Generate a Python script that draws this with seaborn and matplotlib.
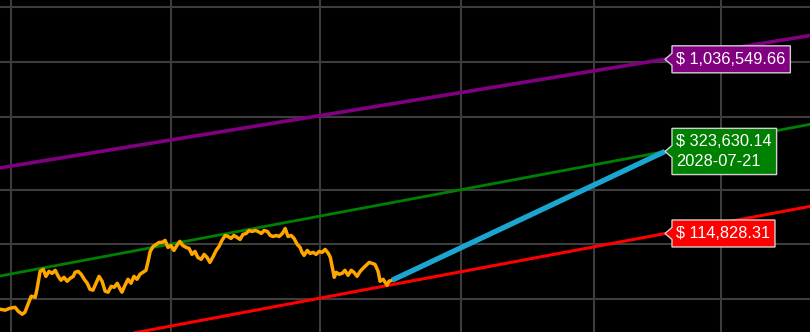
import matplotlib
matplotlib.use("Agg")
import matplotlib.pyplot as plt
from matplotlib.path import Path
import seaborn as sns
import pandas as pd

# ---------------- data ----------------
genesis = pd.Timestamp("2009-01-03")

# price history: days since genesis, price in USD
price_days = [5452, 5463, 5474, 5485, 5492, 5501, 5507, 5514, 5521, 5530, 5534, 5541,
              5548, 5554, 5561, 5568, 5575, 5582, 5588, 5595, 5602, 5609, 5616, 5620,
              5627, 5634, 5641, 5648, 5654, 5661, 5668, 5675, 5682, 5689, 5696, 5703,
              5710, 5717, 5724, 5728, 5735, 5742, 5749, 5756, 5763, 5770, 5777, 5784,
              5789, 5794, 5801, 5808, 5815, 5822, 5829, 5836, 5843, 5850, 5857, 5864,
              5871, 5879, 5886, 5893, 5900, 5907, 5915, 5922, 5929, 5936, 5944, 5951,
              5958, 5965, 5973, 5980, 5987, 5994, 6002, 6009, 6016, 6024, 6031, 6038,
              6046, 6053, 6061, 6068, 6076, 6083, 6090, 6098, 6105, 6113, 6120, 6127,
              6135, 6142, 6150, 6157, 6162, 6167, 6175, 6182, 6190, 6197, 6205, 6212,
              6220, 6228, 6233, 6238, 6243, 6248, 6255, 6263, 6270, 6278, 6286, 6293,
              6301, 6309, 6316, 6324, 6332, 6340, 6347, 6355, 6360, 6368, 6373, 6378,
              6383, 6391]
price_usd = [44100, 43600, 44700, 45200, 43000, 41400, 42500, 47000, 52000, 51300, 56800, 71200,
             73000, 66800, 71200, 69400, 72100, 66800, 63600, 66000, 62800, 65200, 66800, 70300,
             71200, 68600, 64400, 61200, 56800, 56100, 61200, 66800, 62800, 55400, 54700, 58900,
             58200, 61200, 56800, 54700, 59700, 64400, 61200, 66800, 64400, 68600, 70300, 72100,
             80700, 91600, 97500, 100000, 102600, 102600, 105200, 96300, 98700, 92700, 98700, 103900,
             98700, 96300, 95100, 88200, 91600, 84900, 82800, 88200, 84900, 79700, 86000, 92700,
             97500, 105200, 112000, 110600, 107900, 112000, 109200, 106500, 113400, 114900, 119300, 117800,
             119300, 117800, 114900, 119300, 117800, 112000, 110600, 112000, 110600, 114900, 122300, 110600,
             112000, 107900, 100000, 96300, 90400, 87100, 92700, 89300, 90400, 88200, 91600, 90400,
             93900, 89300, 84900, 74900, 66000, 70300, 68600, 69400, 72100, 67700, 72100, 70300,
             66800, 71200, 73900, 76800, 79700, 78700, 77700, 71200, 62800, 64400, 62000, 59700,
             62800, 63600]

# power-law bands: values at the left and right edges of the view
band_days = [5451.6, 7571.4]
purple_band = [263000, 1400000]
green_band = [67100, 455800]
red_band = [23800, 161700]

# projection
target_date = "2028-07-21"
proj_start_day = 6391
proj_start_price = 63600
proj_target_price = 323630.14

label_purple = 1036549.66
label_red = 114828.31

x_grid_years = ["2024-01-01", "2025-01-01", "2026-01-01", "2027-01-01", "2028-01-01", "2029-01-01"]
y_grid_values = [50000, 100000, 200000, 500000, 1000000, 2000000]

# ---------------- figure ----------------
sns.set_theme(style="dark")
plt.rcParams["font.family"] = ["Liberation Sans", "DejaVu Sans"]

fig = plt.figure(figsize=(8.1, 3.32), dpi=100, facecolor="black")
ax = fig.add_axes([0, 0, 1, 1])
ax.set_facecolor("black")
ax.set_xscale("log")
ax.set_yscale("log")

target_day = (pd.Timestamp(target_date) - genesis).days

sns.lineplot(x=band_days, y=purple_band, ax=ax, color="#800080", linewidth=2.6, zorder=3)
sns.lineplot(x=band_days, y=green_band, ax=ax, color="#008000", linewidth=2.0, zorder=3)
sns.lineplot(x=band_days, y=red_band, ax=ax, color="#ff0000", linewidth=2.2, zorder=3)
sns.lineplot(x=price_days, y=price_usd, ax=ax, color="#ffa500", linewidth=2.5, zorder=4)
sns.lineplot(x=[proj_start_day, target_day], y=[proj_start_price, proj_target_price],
             ax=ax, color="#1aa6d0", linewidth=3.8, zorder=5, solid_capstyle="butt")

ax.set_xlim(5451.6, 7571.4)
ax.set_ylim(33080, 2193000)
xg = [(pd.Timestamp(d) - genesis).days for d in x_grid_years]
ax.set_xticks(xg)
ax.set_yticks(y_grid_values)
ax.minorticks_off()
ax.set_xlabel("")
ax.set_ylabel("")
ax.tick_params(length=0, labelbottom=False, labelleft=False)
ax.grid(True, color="#3d3d3d", linewidth=1.5)
for s in ax.spines.values():
    s.set_visible(False)

PADX = 4.5
PADY = 6.0


def tag_box(x0, y0, width, height, mutation_size):
    x0 -= PADX
    y0 -= PADY
    width += 2 * PADX
    height += 2 * PADY
    cy = y0 + height / 2
    verts = [(x0, y0), (x0 + width, y0), (x0 + width, y0 + height), (x0, y0 + height),
             (x0, cy + 6), (x0 - 7, cy), (x0, cy - 6), (x0, y0), (x0, y0)]
    codes = [Path.MOVETO] + [Path.LINETO] * 7 + [Path.CLOSEPOLY]
    return Path(verts, codes)


FS = 11.8


def tag(day, value, text, color):
    ax.annotate(text, xy=(day, value), xytext=(7 + PADX, 0), textcoords="offset pixels",
                ha="left", va="center", color="white", fontsize=FS, zorder=10,
                annotation_clip=False, linespacing=1.35,
                bbox=dict(boxstyle=tag_box, fc=color, ec="#d0d0d0", lw=1))


tag(target_day, label_purple, f"$ {label_purple:,.2f}", "#800080")
tag(target_day, proj_target_price, f"$ {proj_target_price:,.2f}\n{target_date}", "#008000")
tag(target_day, label_red, f"$ {label_red:,.2f}", "#ff0000")

fig.savefig("out.png", dpi=100, facecolor="black")
